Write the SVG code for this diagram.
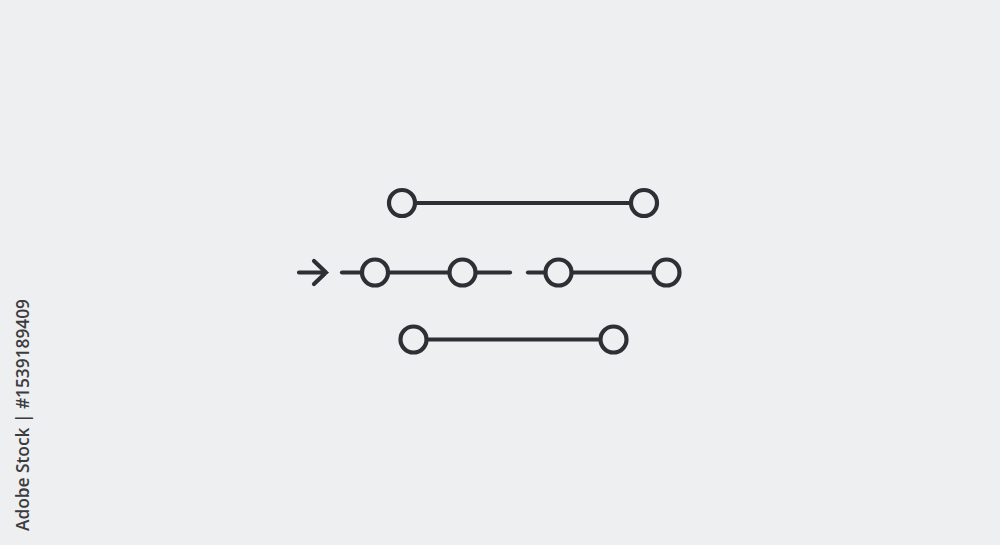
<svg xmlns="http://www.w3.org/2000/svg" width="1000" height="545" viewBox="0 0 1000 545">
<style>
.ln{stroke:#2c2f34;stroke-width:4.2;stroke-linecap:round;fill:none}
.nd{stroke:#2c2f34;stroke-width:4.2;fill:#eeeff1}
.wm{font-family:"Open Sans","Noto Sans",sans-serif;font-size:18.5px;font-weight:600;fill:#3a3c40}
</style>
<rect width="1000" height="545" fill="#eeeff1"/>
<g id="connectors">
<line class="ln" x1="402" y1="203" x2="644" y2="203"/>
<line class="ln" x1="342" y1="272.5" x2="510" y2="272.5"/>
<line class="ln" x1="528" y1="272.5" x2="667" y2="272.5"/>
<line class="ln" x1="413" y1="339.5" x2="614" y2="339.5"/>
<path class="ln" d="M299 272.5 H326 M314 261 L326 272.5 L314 284"/>
</g>
<g id="n1"><circle class="nd" cx="402" cy="203" r="13"/></g>
<g id="n2"><circle class="nd" cx="644" cy="203" r="13"/></g>
<g id="n3"><circle class="nd" cx="375" cy="272.5" r="13"/></g>
<g id="n4"><circle class="nd" cx="462.5" cy="272.5" r="13"/></g>
<g id="n5"><circle class="nd" cx="558.5" cy="272.5" r="13"/></g>
<g id="n6"><circle class="nd" cx="666.5" cy="272.5" r="13"/></g>
<g id="n7"><circle class="nd" cx="413.5" cy="339.5" r="13"/></g>
<g id="n8"><circle class="nd" cx="613.5" cy="339.5" r="13"/></g>
<text class="wm" transform="translate(29 531) rotate(-90)" textLength="232" lengthAdjust="spacingAndGlyphs">Adobe Stock | #1539189409</text>
</svg>
